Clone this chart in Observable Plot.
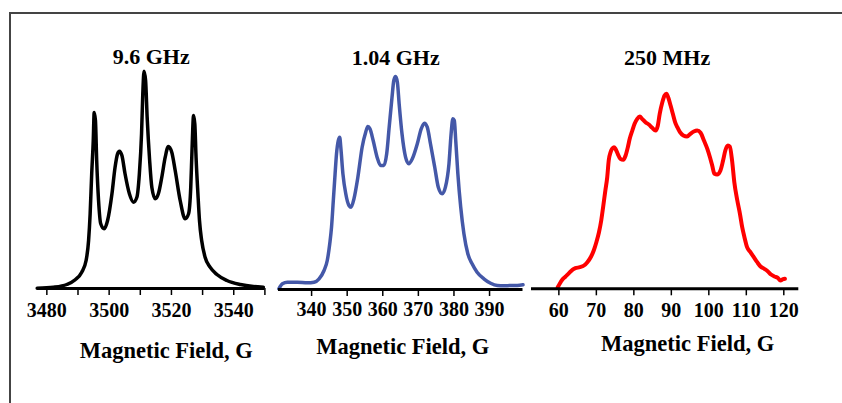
<!DOCTYPE html>
<html>
<head>
<meta charset="utf-8">
<script src="https://cdn.jsdelivr.net/npm/d3@7"></script>
<script src="https://cdn.jsdelivr.net/npm/@observablehq/plot@0.6"></script>
<style>
  html, body { margin: 0; padding: 0; background: #fff; }
  #wrap { position: relative; width: 842px; height: 403px; overflow: hidden; background: #fff; }
  #frame { position: absolute; left: 9px; top: 12px; width: 840px; height: 400px;
           border-left: 2px solid #444; border-top: 2px solid #444; box-sizing: border-box; }
  #wrap svg { position: absolute; left: 0; top: 0; }
</style>
</head>
<body>
<div id="wrap"><div id="frame"></div></div>
<script>
// ---- Panel titles / axis label ----
const titles = ["9.6 GHz", "1.04 GHz", "250 MHz"];
const axisLabel = "Magnetic Field, G";

// ---- 9.6 GHz spectrum (field in G, intensity a.u.) ----
const fieldX = [3476.9,3482.1,3486.4,3489.1,3491.2,3492.6,3493.4,3493.9,3494.4,3494.9,3495.2,3495.6,3496.0,3496.6,3497.3,3498.4,3499.5,3500.9,3501.9,3502.7,3503.3,3504.1,3505.1,3506.5,3507.8,3508.9,3509.7,3510.4,3510.8,3511.2,3511.7,3512.2,3513.0,3513.7,3514.8,3515.8,3516.9,3518.0,3519.0,3520.1,3521.2,3522.8,3524.4,3525.5,3526.2,3526.6,3527.1,3527.5,3527.9,3528.5,3529.0,3529.7,3530.8,3532.4,3534.6,3537.8,3542.1,3546.3,3549.5];
const intX   = [0.3,1.3,4,8.7,16.3,28,48,74.7,114.7,148,176,168,128,88,64.7,59.7,68,94.7,121.3,134.7,137.3,133,114.7,94.7,86.3,91.3,114.7,154.7,194.7,217.3,208,171.3,128,101.3,89.7,94.7,111.3,131.3,142,136.3,118,88,69.7,74.7,101.3,138,173,164.7,131.3,94.7,68,48,31.3,21.3,14,8,4,2,1.3];

// ---- 1.04 GHz spectrum ----
const fieldL = [330.8,331.8,333.2,336.0,338.8,340.7,342.1,343.5,344.4,345.1,345.6,346.1,346.6,347.0,347.5,347.9,348.2,348.8,349.6,350.5,351.1,351.9,353.0,354.2,355.2,355.8,356.4,357.3,358.4,359.4,360.3,361.1,361.8,362.6,363.1,363.6,364.1,364.6,365.4,366.4,367.3,368.3,369.7,370.8,371.7,372.5,373.4,374.6,375.6,376.7,377.6,378.6,379.2,379.7,380.1,380.5,381.1,381.9,382.8,383.9,385.1,386.5,388.4,390.3,392.2,394.0,395.9,397.8,399.4];
const intL   = [0.7,5.7,7.3,7.3,6.7,7.3,10.7,19,29,45.7,62.3,89,115.7,135.7,149,152.3,142.3,115.7,95.7,84,82.3,90.7,112.3,142.3,157.3,163,160.7,149,132.3,124,124,135.7,162.3,192.3,209,213,207.3,185.7,155.7,132.3,125.7,130.7,145.7,160.7,166.3,162.3,145.7,122.3,102.3,95.7,102.3,125.7,155.7,170.7,169,149,115.7,82.3,55.7,35.7,25.7,17.3,10.7,6.3,4,3.7,4,4,4.7];

// ---- 250 MHz spectrum ----
const fieldR = [59.7,60.3,60.9,61.8,62.7,63.6,64.4,65.6,66.7,67.6,68.6,69.3,70.0,70.7,71.3,71.8,72.4,72.9,73.3,73.8,74.2,74.7,75.1,75.7,76.4,77.2,77.8,78.4,78.9,79.6,80.2,80.9,81.6,82.2,83.1,84.0,84.9,85.8,86.4,86.9,87.6,88.2,88.7,89.2,89.8,90.4,91.0,91.6,92.3,93.2,94.2,95.1,96.0,96.9,97.8,98.7,99.6,100.3,100.9,101.5,102.2,103.1,103.8,104.4,105.1,105.6,106.2,106.8,107.6,108.3,108.9,109.5,110.2,111.1,112.0,112.9,113.8,114.8,115.7,116.6,117.5,118.4,119.1,119.8,120.3];
const intR   = [1.6,5.6,9,12.3,15.6,19,20.6,21.6,23.3,26.6,32.3,38.3,46.6,56.6,68.3,81.6,98.3,111.6,128.3,136.6,140,141.6,140,135,130,129,133.3,141.6,150,158.3,165,170,172.3,170,166.6,164.3,161,158.3,163.3,175,186.6,193.3,195,191,183.3,175,166.6,161.6,156.6,153.3,152.3,155,157.3,158.3,156,148.3,140,131.6,123.3,115,114.3,118.3,128.3,138.3,143.3,142.3,128.3,106.6,88.3,75,61.6,51.6,41.6,36.6,31.6,26.6,22.3,20,17.6,14.3,12.3,11,8.3,9.6,10];

// ---- Tick values ----
const ticksX = [3480,3490,3500,3510,3520,3530,3540,3550];
const labeledX = [3480,3500,3520,3540];
const ticksL = [340,350,360,370,380,390];
const ticksR = [60,70,80,90,100,110,120];

const panels = [
  {field: fieldX, inten: intX, color: "#000000", width: 3.5, domain: [3477, 3550], left: 37, right: 264.4, axisY: 288,
   ticks: ticksX, labeled: labeledX, pad: 7, title: titles[0], tdx: 0, tdy: 56, ldx: 15, ldy: 62},
  {field: fieldL, inten: intL, color: "#4458a8", width: 3.5, domain: [330.7, 399.4], left: 278, right: 522.5, axisY: 289,
   ticks: ticksL, labeled: ticksL, pad: 5.5, title: titles[1], tdx: -5, tdy: 57, ldx: 2, ldy: 57.7},
  {field: fieldR, inten: intR, color: "#ff0000", width: 4, domain: [52.7, 124], left: 531, right: 798.3, axisY: 288.3,
   ticks: ticksR, labeled: ticksR, pad: 7, title: titles[2], tdx: 2, tdy: 57, ldx: 22.5, ldy: 55}
];

const W = 842, H = 403;
const wrap = document.getElementById("wrap");
for (const p of panels) {
  const data = p.field.map((f, i) => ({field: f, intensity: p.inten[i]}));
  const chart = Plot.plot({
    width: W, height: H,
    marginLeft: p.left, marginRight: W - p.right,
    marginTop: 0, marginBottom: H - p.axisY,
    x: {domain: p.domain},
    y: {domain: [0, p.axisY], axis: null},
    style: {background: "transparent", overflow: "visible",
            fontFamily: "'Liberation Serif', 'Times New Roman', serif",
            fontSize: "20px", fontWeight: "bold", color: "#000"},
    marks: [
      Plot.line(data, {x: "field", y: "intensity", stroke: p.color, strokeWidth: p.width,
                       curve: "monotone-x", strokeLinejoin: "round", strokeLinecap: "round"}),
      Plot.ruleY([0], {stroke: "#000", strokeWidth: 3}),
      Plot.axisX({ticks: p.ticks, tickSize: 7, tickPadding: p.pad, strokeWidth: 1.5,
                  tickFormat: d => p.labeled.includes(d) ? String(d) : "",
                  fill: "#000", fontSize: 20, label: null}),
      Plot.text([p.title], {text: d => d, frameAnchor: "top", dx: p.tdx, dy: p.tdy,
                            lineAnchor: "middle", fontSize: 22, fontWeight: "bold", fill: "#000"}),
      Plot.text([axisLabel], {text: d => d, frameAnchor: "bottom", dx: p.ldx, dy: p.ldy,
                              lineAnchor: "middle", fontSize: 22.5, fontWeight: "bold", fill: "#000"})
    ]
  });
  wrap.appendChild(chart);
}
</script>
</body>
</html>
